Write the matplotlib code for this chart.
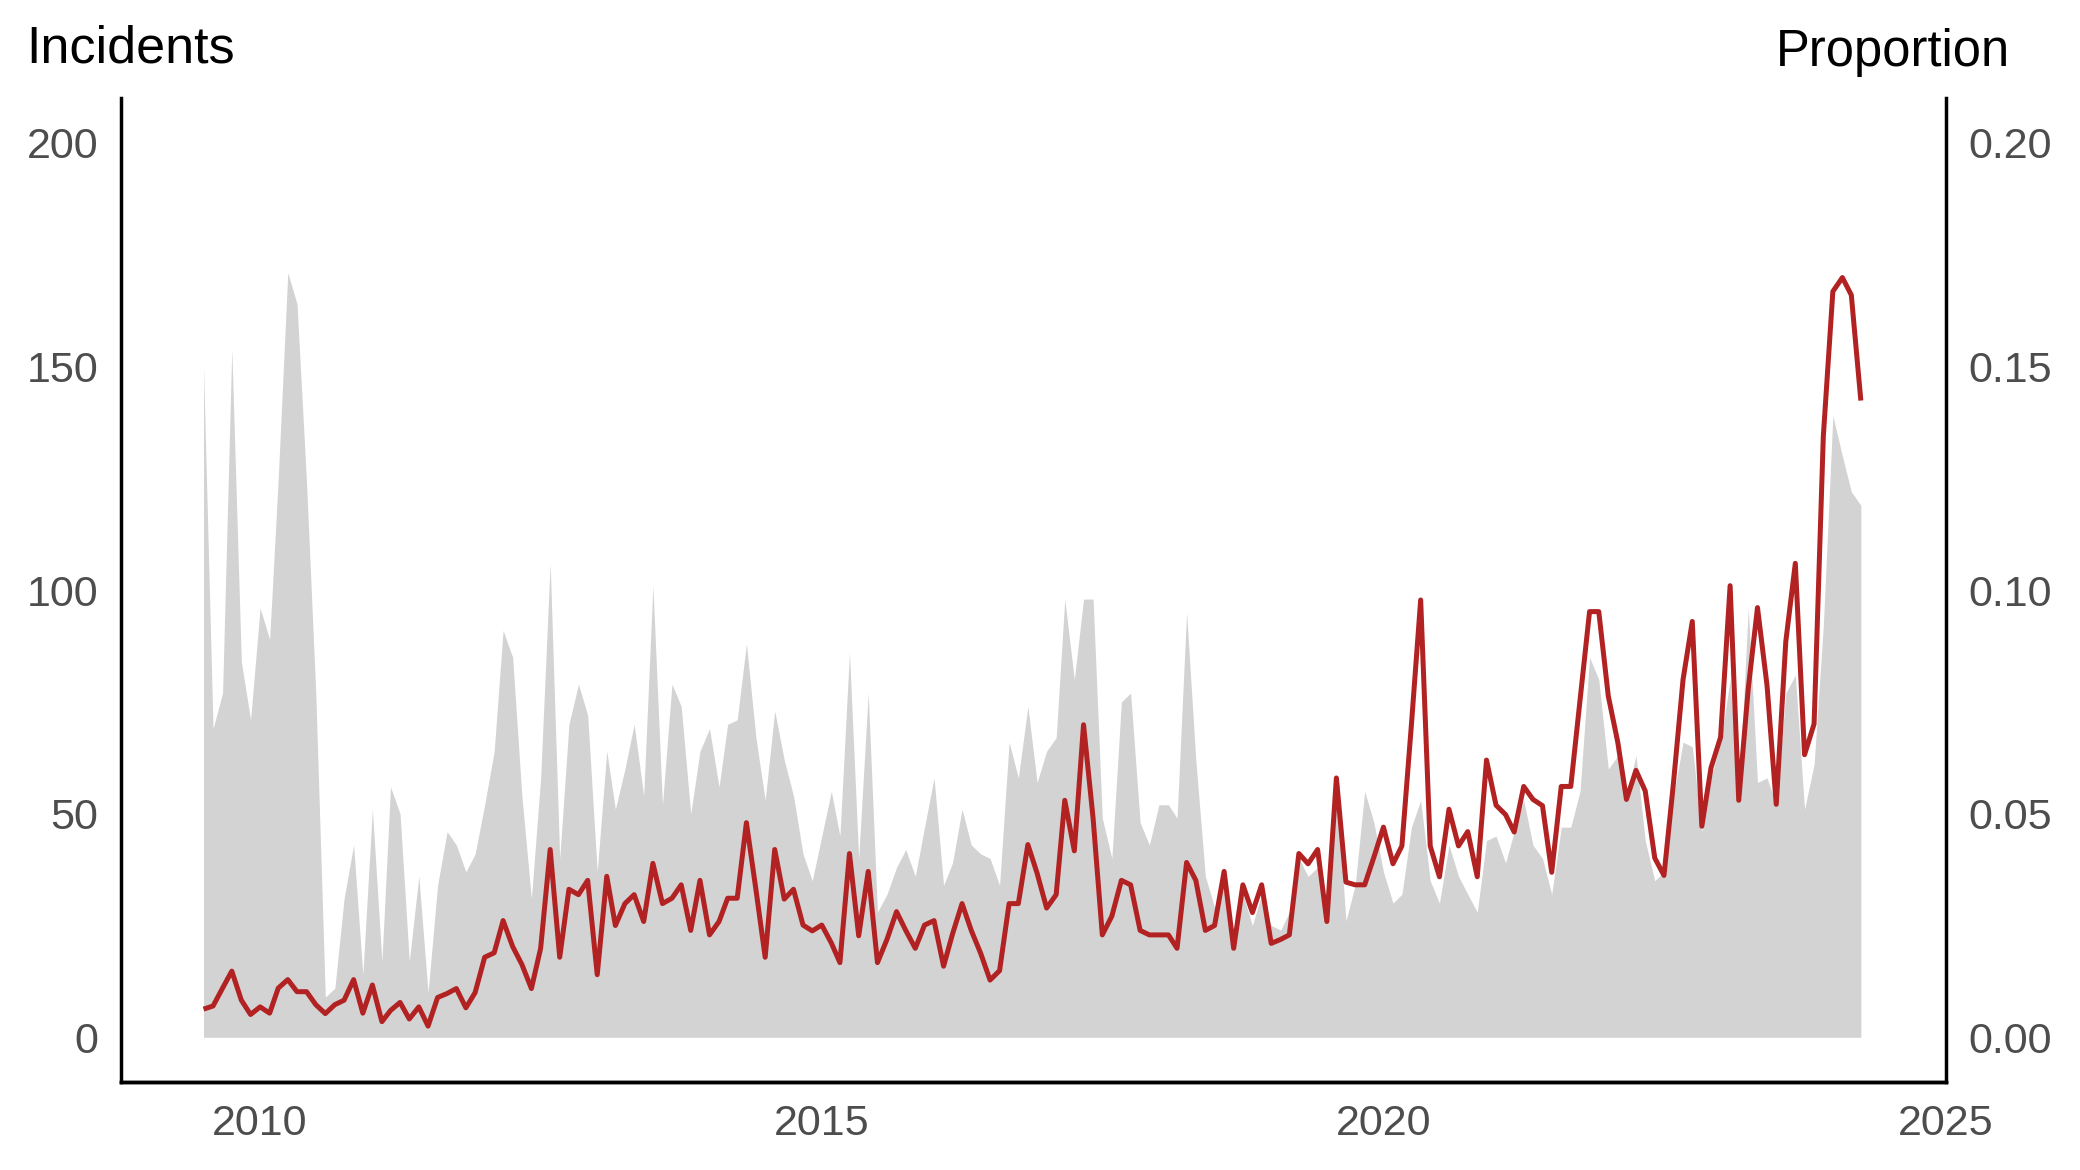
import pandas as pd
import matplotlib.pyplot as plt
import matplotlib.dates as mdates
from matplotlib.ticker import FuncFormatter

plt.rcParams["font.family"] = ["Liberation Sans", "DejaVu Sans"]

# monthly series, Jul 2009 - Apr 2024
months = pd.date_range("2009-07-01", periods=178, freq="MS")

incidents = [
    150, 69, 77, 154, 84, 71, 96, 89, 125, 171, 164, 124, 77, 9, 11, 31, 43, 14, 51, 17,
    56, 50, 17, 36, 10, 34, 46, 43, 37, 41, 52, 64, 91, 85, 54, 31, 58, 106, 40, 70,
    79, 72, 37, 64, 51, 60, 70, 54, 101, 52, 79, 74, 50, 64, 69, 56, 70, 71, 88, 67,
    53, 73, 62, 54, 41, 35, 45, 55, 45, 86, 40, 77, 28, 32, 38, 42, 36, 47, 58, 34,
    39, 51, 43, 41, 40, 34, 66, 58, 74, 57, 64, 67, 98, 80, 98, 98, 49, 40, 75, 77,
    48, 43, 52, 52, 49, 95, 62, 36, 29, 34, 20, 32, 25, 32, 25, 24, 28, 40, 36, 38,
    26, 57, 26, 34, 55, 48, 37, 30, 32, 47, 53, 35, 30, 43, 36, 32, 28, 44, 45, 39,
    46, 53, 43, 40, 32, 47, 47, 55, 85, 80, 60, 63, 54, 63, 44, 35, 37, 54, 66, 65,
    46, 58, 66, 80, 53, 96, 57, 58, 52, 77, 81, 51, 61, 92, 139, 130, 122, 119,
]

proportion = [
    0.0063, 0.0070, 0.0110, 0.0148, 0.0083, 0.0051, 0.0068, 0.0054, 0.0110, 0.0129,
    0.0102, 0.0102, 0.0073, 0.0053, 0.0073, 0.0083, 0.0129, 0.0054, 0.0117, 0.0035,
    0.0060, 0.0078, 0.0041, 0.0068, 0.0025, 0.0089, 0.0098, 0.0109, 0.0066, 0.0100,
    0.0179, 0.0189, 0.0261, 0.0203, 0.0163, 0.0109, 0.0199, 0.0420, 0.0179, 0.0331,
    0.0319, 0.0351, 0.0140, 0.0360, 0.0250, 0.0299, 0.0319, 0.0259, 0.0389, 0.0299,
    0.0311, 0.0341, 0.0239, 0.0351, 0.0229, 0.0259, 0.0311, 0.0311, 0.0480, 0.0330,
    0.0179, 0.0420, 0.0309, 0.0331, 0.0251, 0.0238, 0.0251, 0.0211, 0.0167, 0.0411,
    0.0227, 0.0371, 0.0167, 0.0219, 0.0281, 0.0239, 0.0199, 0.0251, 0.0261, 0.0159,
    0.0231, 0.0299, 0.0239, 0.0187, 0.0128, 0.0149, 0.0299, 0.0299, 0.0431, 0.0367,
    0.0289, 0.0319, 0.0530, 0.0417, 0.0699, 0.0490, 0.0229, 0.0271, 0.0351, 0.0341,
    0.0239, 0.0229, 0.0229, 0.0229, 0.0199, 0.0391, 0.0351, 0.0239, 0.0250, 0.0371,
    0.0199, 0.0341, 0.0279, 0.0341, 0.0210, 0.0219, 0.0229, 0.0411, 0.0388, 0.0420,
    0.0259, 0.0580, 0.0347, 0.0341, 0.0341, 0.0403, 0.0470, 0.0388, 0.0428, 0.0700,
    0.0978, 0.0428, 0.0359, 0.0510, 0.0428, 0.0460, 0.0359, 0.0620, 0.0519, 0.0498,
    0.0459, 0.0561, 0.0532, 0.0518, 0.0369, 0.0561, 0.0561, 0.0754, 0.0952, 0.0952,
    0.0763, 0.0659, 0.0532, 0.0597, 0.0551, 0.0401, 0.0362, 0.0570, 0.0800, 0.0930,
    0.0472, 0.0603, 0.0671, 0.1010, 0.0530, 0.0780, 0.0961, 0.0787, 0.0521, 0.0885,
    0.1060, 0.0632, 0.0701, 0.1344, 0.1668, 0.1699, 0.1660, 0.1424,
]

fig = plt.figure(figsize=(20.8, 11.7), dpi=100)
ax = fig.add_axes([0.058, 0.0752, 0.8776, 0.8408])

ax.fill_between(months, incidents, 0, color="#d3d3d3", linewidth=0)
span = months[-1] - months[0]
ax.set_xlim(months[0] - span * 0.05, pd.Timestamp("2025-01-03"))
ax.set_ylim(-10, 210)
ax.set_yticks([0, 50, 100, 150, 200])

ax2 = ax.twinx()
ax2.plot(months, proportion, color="#b22222", linewidth=3.6,
         solid_joinstyle="round", solid_capstyle="butt")
ax2.set_ylim(-0.010, 0.210)
ax2.set_yticks([0, 0.05, 0.10, 0.15, 0.20])
ax2.yaxis.set_major_formatter(FuncFormatter(lambda v, p: f"{v:.2f}"))

ax.xaxis.set_major_locator(mdates.YearLocator(5))
ax.xaxis.set_major_formatter(mdates.DateFormatter("%Y"))

for a in (ax, ax2):
    a.set_facecolor("none")
    a.spines["top"].set_visible(False)
    for s in ("left", "right", "bottom"):
        a.spines[s].set_linewidth(2.5)
        a.spines[s].set_color("black")
    a.tick_params(length=0, labelsize=31, labelcolor="#4d4d4d", pad=16)
ax.spines["right"].set_visible(False)
ax2.spines["left"].set_visible(False)

fig.text(0.0127, 0.9585, "Incidents", fontsize=37.5, color="black", va="center", ha="left")
fig.text(0.9662, 0.955, "Proportion", fontsize=36.5, color="black", va="center", ha="right")

fig.savefig("out.png", dpi=100)
